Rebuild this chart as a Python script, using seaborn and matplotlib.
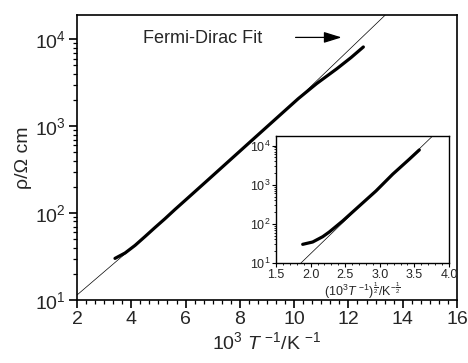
import numpy as np
import pandas as pd
import matplotlib
matplotlib.use("Agg")
import matplotlib.pyplot as plt
from matplotlib.ticker import MultipleLocator, LogLocator, NullFormatter, FormatStrFormatter
import seaborn as sns

# ---------------------------------------------------------------------------
# Data
# ---------------------------------------------------------------------------
# main panel: resistivity vs 10^3/T
inv_t = [3.40, 3.77, 4.14, 4.51, 4.87, 5.24, 5.61, 6.04, 6.84, 7.57,
         8.37, 8.74, 9.48, 10.15, 10.83, 11.57, 12.10, 12.55]
rho = [30.1, 34.7, 42.5, 53.8, 68.0, 86.0, 110.0, 145.0, 243.0, 390.0,
       655.0, 832.0, 1343.0, 2070.0, 3090.0, 4570.0, 6170.0, 8150.0]

# Fermi-Dirac fit line
fit_x = [2.0, 4.3, 10.15, 13.35]
fit_y = [11.4, 47.0, 2080.0, 18900.0]

# inset: resistivity vs (10^3/T)^(1/2)
sqrt_t = [1.886, 2.03, 2.175, 2.27, 2.464, 2.704, 2.945, 3.186, 3.426, 3.571]
rho_in = [30.0, 34.4, 47.0, 62.0, 119.0, 287.0, 694.0, 1858.0, 4490.0, 7760.0]
fit_in_x = [1.861, 3.764]
fit_in_y = [10.0, 17700.0]

main_df = pd.DataFrame({"x": inv_t, "rho": rho})
inset_df = pd.DataFrame({"x": sqrt_t, "rho": rho_in})

sns.set_style("ticks")
plt.rcParams["font.family"] = ["Liberation Sans", "DejaVu Sans"]
plt.rcParams["mathtext.fontset"] = "custom"
plt.rcParams["mathtext.rm"] = "Liberation Sans"
plt.rcParams["mathtext.it"] = "Liberation Sans:italic"

fig = plt.figure(figsize=(4.68, 3.63), dpi=100)
ax = fig.add_axes([0.1645, 0.1736, 0.812, 0.785])

# ---------------------------------------------------------------------------
# Main panel
# ---------------------------------------------------------------------------
ax.plot(fit_x, fit_y, color="black", linewidth=0.5)
sns.lineplot(data=main_df, x="x", y="rho", ax=ax, color="black",
             linewidth=2.3, sort=False)
ax.set_yscale("log")
ax.set_xlim(2, 16)
ax.set_ylim(10, 19000)

ax.xaxis.set_major_locator(MultipleLocator(2))
ax.xaxis.set_minor_locator(MultipleLocator(1 / 3))
ax.yaxis.set_major_locator(LogLocator(base=10, numticks=10))
ax.yaxis.set_minor_locator(LogLocator(base=10, subs=np.arange(2, 10), numticks=10))
ax.yaxis.set_minor_formatter(NullFormatter())
ax.tick_params(axis="both", which="major", direction="out", length=6,
               width=1.2, labelsize=14, color="black", pad=2)
ax.tick_params(axis="both", which="minor", direction="out", length=3,
               width=0.9, color="black")
for s in ax.spines.values():
    s.set_linewidth(1.2)
    s.set_color("black")

ax.set_xlabel(r"10$^{3}$ $T$ $^{-1}$/K $^{-1}$", fontsize=14, labelpad=2)
ax.set_ylabel("ρ/Ω cm", fontsize=14, labelpad=2)

ax.annotate("", xy=(11.85, 10500), xytext=(9.95, 10500),
            arrowprops=dict(arrowstyle="-|>,head_length=0.9,head_width=0.28",
                            color="black", lw=0.9, mutation_scale=12))
ax.text(4.43, 10300, "Fermi-Dirac Fit", fontsize=13, va="center", ha="left")

# ---------------------------------------------------------------------------
# Inset
# ---------------------------------------------------------------------------
ins = fig.add_axes([0.5897, 0.2755, 0.3697, 0.35])
ins.plot(fit_in_x, fit_in_y, color="black", linewidth=0.5)
sns.lineplot(data=inset_df, x="x", y="rho", ax=ins, color="black",
             linewidth=2.3, sort=False)
ins.set_yscale("log")
ins.set_xlim(1.5, 4.0)
ins.set_ylim(10, 17700)
ins.xaxis.set_major_locator(MultipleLocator(0.5))
ins.xaxis.set_minor_locator(MultipleLocator(0.1))
ins.yaxis.set_major_locator(LogLocator(base=10, numticks=10))
ins.yaxis.set_minor_locator(LogLocator(base=10, subs=np.arange(2, 10), numticks=10))
ins.yaxis.set_minor_formatter(NullFormatter())
ins.xaxis.set_major_formatter(FormatStrFormatter("%.1f"))
ins.tick_params(axis="both", which="major", direction="out", length=3,
                width=0.8, labelsize=9, color="black", pad=1)
ins.tick_params(axis="both", which="minor", direction="out", length=1.5,
                width=0.6, color="black")
for s in ins.spines.values():
    s.set_linewidth(1.0)
    s.set_color("black")
ins.set_xlabel(r"(10$^{3}$$T$ $^{-1}$)$^{\frac{1}{2}}$/K$^{-\frac{1}{2}}$",
               fontsize=9, labelpad=0)
ins.set_ylabel("")

fig.savefig("out.png", dpi=100)
